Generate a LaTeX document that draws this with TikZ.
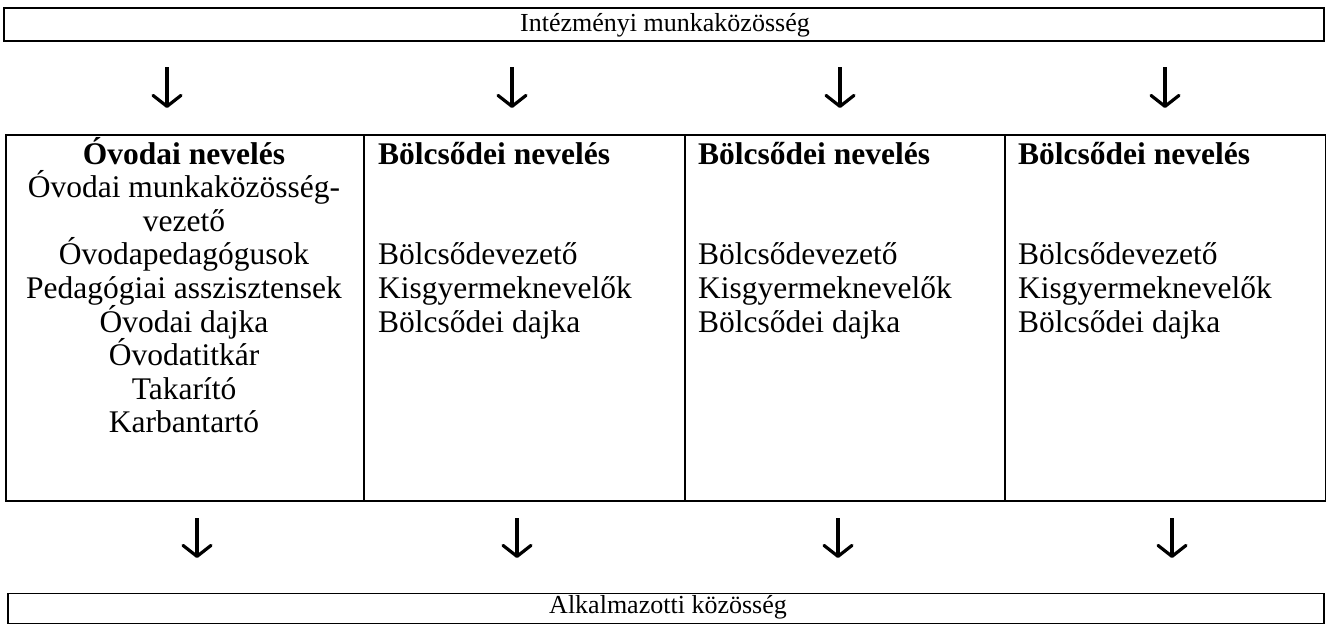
\documentclass[tikz,border=0pt]{standalone}
\usepackage{fontspec}
\setmainfont{Liberation Serif}
\usetikzlibrary{arrows.meta}
\begin{document}
\begin{tikzpicture}[x=1pt,y=-1pt,
  frame/.style={draw, line width=1.6pt, inner sep=0pt},
  bartext/.style={font=\fontsize{26}{30}\selectfont, anchor=base, inner sep=0pt},
  celltext/.style={font=\fontsize{31.5}{34}\selectfont, anchor=base, inner sep=0pt},
  leftcell/.style={celltext, anchor=base west},
  flow/.style={line width=3.2pt, -{Straight Barb[length=11pt,width=28pt,line width=3.2pt,round]}}]
\useasboundingbox (0,0) rectangle (1326,625);
\fill[white] (0,0) rectangle (1326,625);
% top bar
\node[frame, minimum width=1320pt, minimum height=33pt] (topbar) at (664,24.5) {};
\node[bartext] (toptext) at (665,31.5) {Intézményi munkaközösség};
% bottom bar
\node[frame, minimum width=1316pt, minimum height=30pt] (botbar) at (666,608.5) {};
\node[bartext] (bottext) at (668,613) {Alkalmazotti közösség};
% table cells
\node[frame, anchor=north west, minimum width=358pt, minimum height=366pt] (cell1) at (5,134) {};
\node[frame, anchor=north west, minimum width=321pt, minimum height=366pt] (cell2) at (363,134) {};
\node[frame, anchor=north west, minimum width=320pt, minimum height=366pt] (cell3) at (684,134) {};
\node[frame, anchor=north west, minimum width=321pt, minimum height=366pt] (cell4) at (1004,134) {};
% column 1
\foreach \t [count=\i from 0] in {{\bfseries Óvodai nevelés}, Óvodai munkaközösség-, vezető, Óvodapedagógusok, Pedagógiai asszisztensek, Óvodai dajka, Óvodatitkár, Takarító, Karbantartó}
  \node[celltext] (a\i) at (184,164+33.6*\i) {\t};
% columns 2-4
\foreach \x/\c in {378/b, 698/c, 1018/d} {
  \node[leftcell] (\c0) at (\x,164) {\bfseries Bölcsődei nevelés};
  \node[leftcell] (\c1) at (\x,164+33.6*3) {Bölcsődevezető};
  \node[leftcell] (\c2) at (\x,164+33.6*4) {Kisgyermeknevelők};
  \node[leftcell] (\c3) at (\x,164+33.6*5) {Bölcsődei dajka};
}
% top arrows
\foreach \x [count=\i] in {167, 512, 840, 1165} {
  \coordinate (ts\i) at (\x,67);
  \coordinate (te\i) at (\x,108);
  \draw[flow] (ts\i) -- (te\i);
}
% bottom arrows
\foreach \x [count=\i] in {197, 517, 838, 1172} {
  \coordinate (bs\i) at (\x,518);
  \coordinate (be\i) at (\x,558);
  \draw[flow] (bs\i) -- (be\i);
}
\end{tikzpicture}
\end{document}
